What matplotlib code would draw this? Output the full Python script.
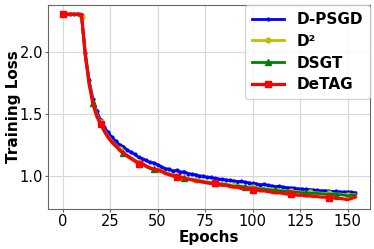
import matplotlib
matplotlib.use("Agg")
import matplotlib.pyplot as plt

# epochs (every 2nd epoch)
epochs = [0, 2, 4, 6, 8, 10, 12, 14, 16, 18,
          20, 22, 24, 26, 28, 30, 32, 34, 36, 38,
          40, 42, 44, 46, 48, 50, 52, 54, 56, 58,
          60, 62, 64, 66, 68, 70, 72, 74, 76, 78,
          80, 82, 84, 86, 88, 90, 92, 94, 96, 98,
          100, 102, 104, 106, 108, 110, 112, 114, 116, 118,
          120, 122, 124, 126, 128, 130, 132, 134, 136, 138,
          140, 142, 144, 146, 148, 150, 152, 154]

loss_dpsgd = [2.30, 2.30, 2.30, 2.30, 2.30, 2.29, 1.99, 1.77, 1.62, 1.52,
              1.45, 1.39, 1.35, 1.31, 1.28, 1.25, 1.235, 1.21, 1.19, 1.175,
              1.15, 1.14, 1.125, 1.11, 1.105, 1.09, 1.075, 1.06, 1.055, 1.04,
              1.045, 1.03, 1.035, 1.02, 1.015, 1.01, 1.00, 0.998, 0.99, 0.988,
              0.98, 0.975, 0.972, 0.968, 0.965, 0.96, 0.955, 0.957, 0.95, 0.945,
              0.94, 0.937, 0.93, 0.932, 0.925, 0.92, 0.915, 0.917, 0.91, 0.906,
              0.905, 0.90, 0.897, 0.895, 0.892, 0.89, 0.886, 0.885, 0.88, 0.882,
              0.878, 0.875, 0.876, 0.872, 0.87, 0.872, 0.868, 0.865]

loss_d2 = [2.30, 2.30, 2.30, 2.30, 2.30, 2.28, 1.97, 1.75, 1.60, 1.50,
           1.43, 1.37, 1.32, 1.28, 1.25, 1.22, 1.19, 1.17, 1.15, 1.13,
           1.11, 1.10, 1.08, 1.07, 1.06, 1.05, 1.04, 1.03, 1.02, 1.01,
           1.00, 0.995, 0.99, 0.98, 0.975, 0.97, 0.965, 0.96, 0.955, 0.95,
           0.945, 0.94, 0.94, 0.935, 0.93, 0.925, 0.925, 0.92, 0.915, 0.91,
           0.91, 0.905, 0.90, 0.90, 0.895, 0.89, 0.89, 0.885, 0.885, 0.88,
           0.88, 0.875, 0.875, 0.87, 0.87, 0.868, 0.865, 0.865, 0.862, 0.86,
           0.86, 0.858, 0.855, 0.855, 0.852, 0.85, 0.85, 0.85]

loss_dsgt = [2.30, 2.30, 2.30, 2.30, 2.30, 2.28, 1.97, 1.75, 1.59, 1.49,
             1.42, 1.36, 1.31, 1.275, 1.245, 1.21, 1.185, 1.165, 1.145, 1.125,
             1.105, 1.095, 1.075, 1.06, 1.055, 1.045, 1.035, 1.025, 1.015, 1.005,
             0.995, 0.99, 0.985, 0.975, 0.97, 0.965, 0.96, 0.955, 0.945, 0.945,
             0.94, 0.935, 0.935, 0.93, 0.925, 0.915, 0.92, 0.915, 0.91, 0.905,
             0.905, 0.90, 0.895, 0.895, 0.89, 0.885, 0.885, 0.88, 0.88, 0.875,
             0.875, 0.87, 0.87, 0.865, 0.865, 0.862, 0.86, 0.86, 0.857, 0.855,
             0.855, 0.853, 0.85, 0.85, 0.847, 0.84, 0.845, 0.845]

loss_detag = [2.30, 2.30, 2.30, 2.30, 2.30, 2.30, 1.97, 1.74, 1.58, 1.48,
              1.42, 1.36, 1.31, 1.27, 1.24, 1.21, 1.18, 1.16, 1.14, 1.12,
              1.10, 1.10, 1.08, 1.065, 1.05, 1.05, 1.04, 1.02, 1.01, 1.00,
              0.995, 0.99, 0.98, 0.975, 0.97, 0.96, 0.955, 0.95, 0.945, 0.94,
              0.945, 0.93, 0.925, 0.925, 0.915, 0.91, 0.91, 0.90, 0.90, 0.895,
              0.89, 0.89, 0.88, 0.88, 0.875, 0.87, 0.865, 0.865, 0.86, 0.855,
              0.855, 0.85, 0.845, 0.845, 0.84, 0.84, 0.835, 0.835, 0.83, 0.83,
              0.825, 0.825, 0.82, 0.82, 0.815, 0.81, 0.82, 0.83]

fig = plt.figure(figsize=(3.74, 2.49), dpi=100)
ax = fig.add_subplot(111)
fig.subplots_adjust(left=0.128, right=0.989, bottom=0.161, top=0.98)

ax.plot(epochs, loss_dpsgd, color='b', lw=2, marker='.', markersize=4,
        markevery=1, label='D-PSGD')
ax.plot(epochs, loss_d2, color='y', lw=2, marker='o', markersize=3.5,
        markevery=5, label='D²')
ax.plot(epochs, loss_dsgt, color='g', lw=2, marker='^', markersize=4.5,
        markevery=(8, 8), label='DSGT')
ax.plot(epochs, loss_detag, color='r', lw=2.3, marker='s', markersize=4.5,
        markevery=10, label='DeTAG')

ax.grid(True, color='#d8d8d8', lw=0.8)
ax.set_axisbelow(True)
ax.set_yticks([1.0, 1.5, 2.0])
ax.set_xticks([0, 25, 50, 75, 100, 125, 150])
ax.tick_params(labelsize=10.5, length=2, pad=1.5, color='#666666')
for s in ax.spines.values():
    s.set_color('#666666')
ax.set_xlabel('Epochs', fontsize=11, fontweight='bold', labelpad=1)
ax.set_ylabel('Training Loss', fontsize=11, fontweight='bold')
ax.yaxis.set_label_coords(-0.083, 0.5)

ax.legend(loc='upper right', prop={'weight': 'bold', 'size': 11},
          handlelength=2.1, borderaxespad=0.0, labelspacing=0.45,
          borderpad=0.45, handletextpad=0.8)

fig.savefig('out.png', dpi=100)
